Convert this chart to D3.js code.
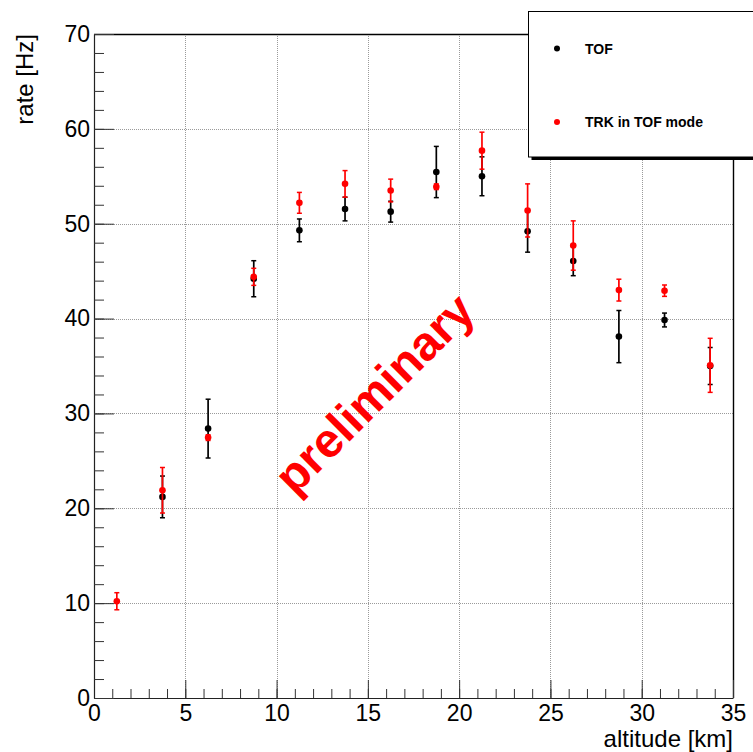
<!DOCTYPE html>
<html>
<head>
<meta charset="utf-8">
<script src="https://cdn.jsdelivr.net/npm/d3@7"></script>
<style>
  html, body { margin: 0; padding: 0; background: #fff; }
  svg { display: block; font-family: "Liberation Sans", Arial, Helvetica, sans-serif; }
</style>
</head>
<body>
<svg id="chart" width="753" height="752"></svg>
<script>
// Bin centres of the altitude bins [km]
const altitude = [1.25, 3.75, 6.25, 8.75, 11.25, 13.75, 16.25, 18.75, 21.25, 23.75, 26.25, 28.75, 31.25, 33.75];
// TOF trigger rate [Hz] and its uncertainty (no entry in the first bin)
const tofRate = [null, 21.2, 28.4, 44.2, 49.3, 51.55, 51.27, 55.45, 55.0, 49.2, 46.07, 38.1, 39.85, 35.0];
const tofErr  = [null, 2.2, 3.1, 1.9, 1.2, 1.25, 1.1, 2.7, 2.05, 2.2, 1.55, 2.75, 0.73, 1.95];
// Tracker running in TOF mode: rate [Hz] and uncertainty
const trkRate = [10.2, 21.9, 27.45, 44.4, 52.2, 54.2, 53.5, 53.9, 57.7, 51.4, 47.7, 43.0, 42.94, 35.07];
const trkErr  = [0.9, 2.4, 0.3, 0.9, 1.1, 1.4, 1.2, 0.3, 1.95, 2.8, 2.6, 1.15, 0.6, 2.85];
// Axis ticks
const xMajorTicks = [0, 5, 10, 15, 20, 25, 30, 35];
const xMinorTicks = d3.range(0, 36, 1);
const yMajorTicks = [0, 10, 20, 30, 40, 50, 60, 70];
const yMinorTicks = d3.range(0, 71, 2);
const legendLabels = ["TOF", "TRK in TOF mode"];

const svg = d3.select("#chart");
const x = d3.scaleLinear().domain([0, 35]).range([94, 733]);
const y = d3.scaleLinear().domain([0, 70]).range([698, 34]);

// Dotted grid at major ticks
const grid = svg.append("g").attr("stroke", "#9a9a9a").attr("stroke-width", 1)
  .attr("stroke-dasharray", "1,1");
grid.selectAll("line.gx").data(xMajorTicks.filter(d => d > 0 && d < 35)).join("line")
  .attr("x1", d => Math.round(x(d)) + 0.5).attr("x2", d => Math.round(x(d)) + 0.5)
  .attr("y1", y(70)).attr("y2", y(0));
grid.selectAll("line.gy").data(yMajorTicks.filter(d => d > 0 && d < 70)).join("line")
  .attr("y1", d => Math.round(y(d)) + 0.5).attr("y2", d => Math.round(y(d)) + 0.5)
  .attr("x1", x(0)).attr("x2", x(35));

// Frame top and right
svg.append("path")
  .attr("d", `M${x(0)},${y(70) + 0.5}H${x(35) + 0.5}V${y(0)}`)
  .attr("fill", "none").attr("stroke", "#000").attr("stroke-width", 1.4);

// Axes: ticks point into the frame
function styleAxis(g) {
  g.selectAll("path.domain").attr("stroke", "#222").attr("stroke-width", 1.2);
  g.selectAll(".tick line").attr("stroke", "#333").attr("stroke-width", 1);
  g.selectAll("text").attr("fill", "#000").attr("font-size", 23);
}
svg.append("g").attr("transform", `translate(0,${y(0)})`)
  .call(d3.axisBottom(x).tickValues(xMinorTicks).tickSizeInner(-9).tickSizeOuter(0).tickFormat(""))
  .call(styleAxis);
svg.append("g").attr("transform", `translate(0,${y(0)})`)
  .call(d3.axisBottom(x).tickValues(xMajorTicks).tickSizeInner(-18).tickSizeOuter(0).tickPadding(7).tickFormat(d3.format("d")))
  .call(styleAxis)
  .call(g => g.select("path.domain").remove());
svg.append("g").attr("transform", `translate(${x(0)},0)`)
  .call(d3.axisLeft(y).tickValues(yMinorTicks).tickSizeInner(-10).tickSizeOuter(0).tickFormat(""))
  .call(styleAxis);
svg.append("g").attr("transform", `translate(${x(0)},0)`)
  .call(d3.axisLeft(y).tickValues(yMajorTicks).tickSizeInner(-20).tickSizeOuter(0).tickPadding(4).tickFormat(d3.format("d")))
  .call(styleAxis)
  .call(g => g.select("path.domain").remove());

// Axis titles
svg.append("text").attr("x", x(35)).attr("y", 747).attr("text-anchor", "end")
  .attr("font-size", 24).text("altitude [km]");
svg.append("text").attr("transform", `translate(33,${y(70)}) rotate(-90)`)
  .attr("text-anchor", "end").attr("font-size", 24).text("rate [Hz]");

// Watermark
svg.append("text").attr("transform", "translate(386,405) rotate(-45)")
  .attr("text-anchor", "middle").attr("font-weight", "bold").attr("font-size", 48)
  .attr("fill", "#ff0000").text("preliminary");

// Points with error bars
function drawSeries(rates, errs, color) {
  const pts = altitude.map((a, i) => ({ a, v: rates[i], e: errs[i] })).filter(d => d.v != null);
  const g = svg.append("g").attr("stroke", color).attr("fill", color);
  g.selectAll("line.bar").data(pts).join("line")
    .attr("x1", d => x(d.a)).attr("x2", d => x(d.a))
    .attr("y1", d => y(d.v - d.e)).attr("y2", d => y(d.v + d.e)).attr("stroke-width", 1.7);
  g.selectAll("line.capTop").data(pts).join("line")
    .attr("x1", d => x(d.a) - 2.5).attr("x2", d => x(d.a) + 2.5)
    .attr("y1", d => y(d.v + d.e)).attr("y2", d => y(d.v + d.e)).attr("stroke-width", 1.5);
  g.selectAll("line.capBot").data(pts).join("line")
    .attr("x1", d => x(d.a) - 2.5).attr("x2", d => x(d.a) + 2.5)
    .attr("y1", d => y(d.v - d.e)).attr("y2", d => y(d.v - d.e)).attr("stroke-width", 1.5);
  g.selectAll("circle").data(pts).join("circle")
    .attr("cx", d => x(d.a)).attr("cy", d => y(d.v)).attr("r", 3.3).attr("stroke", "none");
}
drawSeries(tofRate, tofErr, "#000000");
drawSeries(trkRate, trkErr, "#ff0000");

// Legend with drop shadow
const leg = svg.append("g");
leg.append("rect").attr("x", 531.5).attr("y", 156).attr("width", 240).attr("height", 4).attr("fill", "#000");
leg.append("rect").attr("x", 528.5).attr("y", 11.5).attr("width", 240).attr("height", 145.5)
  .attr("fill", "#fff").attr("stroke", "#000").attr("stroke-width", 1);
const legColors = ["#000000", "#ff0000"];
const legY = [48.5, 122];
legendLabels.forEach((lab, i) => {
  leg.append("circle").attr("cx", 557).attr("cy", legY[i]).attr("r", 3).attr("fill", legColors[i]);
  leg.append("text").attr("x", 585).attr("y", legY[i] + 5).attr("font-size", 14)
    .attr("font-weight", "bold").attr("fill", "#000").text(lab);
});
</script>
</body>
</html>
